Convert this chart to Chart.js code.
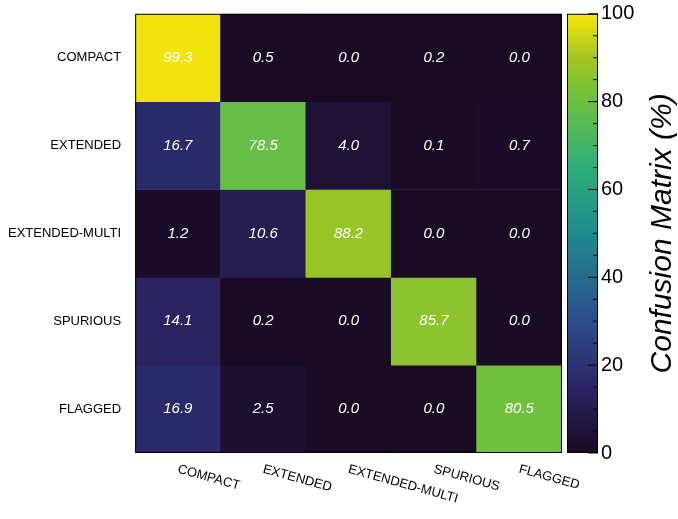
<!DOCTYPE html>
<html><head><meta charset="utf-8">
<script src="https://cdn.jsdelivr.net/npm/chart.js@4"></script>
<style>body{margin:0;background:#fff}#wrap{width:678px;height:519px}</style>
</head><body><div id="wrap"><canvas id="chart"></canvas></div>
<script>
const predicted = ["COMPACT", "EXTENDED", "EXTENDED-MULTI", "SPURIOUS", "FLAGGED"];
const trueRows = ["COMPACT", "EXTENDED", "EXTENDED-MULTI", "SPURIOUS", "FLAGGED"];
const matrix = [
  [99.3, 0.5, 0.0, 0.2, 0.0],
  [16.7, 78.5, 4.0, 0.1, 0.7],
  [1.2, 10.6, 88.2, 0.0, 0.0],
  [14.1, 0.2, 0.0, 85.7, 0.0],
  [16.9, 2.5, 0.0, 0.0, 80.5],
];
const cbTicks = [0, 20, 40, 60, 80, 100];

const stops = [
  [0, [26, 11, 36]], [0.15, [43, 37, 99]], [0.3, [45, 77, 140]], [0.5, [31, 138, 140]],
  [0.65, [46, 174, 122]], [0.8, [108, 192, 64]], [0.9, [164, 198, 32]], [1, [249, 229, 10]],
];
function palette(v) {
  const t = Math.max(0, Math.min(1, v / 100));
  for (let i = 1; i < stops.length; i++) {
    if (t <= stops[i][0]) {
      const [t0, c0] = stops[i - 1], [t1, c1] = stops[i];
      const f = (t - t0) / (t1 - t0);
      const c = c0.map((a, k) => Math.round(a + (c1[k] - a) * f));
      return `rgb(${c[0]},${c[1]},${c[2]})`;
    }
  }
  return "rgb(249,229,10)";
}

const n = trueRows.length;
const datasets = matrix.map((row, r) => {
  const lo = n - 1 - r;
  return {
    label: trueRows[r],
    data: row.map(() => [lo, lo + 1]),
    backgroundColor: row.map(palette),
    borderWidth: 0,
    barPercentage: 1,
    categoryPercentage: 1,
    grouped: false,
  };
});

const decor = {
  id: "decor",
  afterDatasetsDraw(chart) {
    const { ctx, chartArea: a, scales } = chart;
    ctx.save();
    // cell values
    ctx.fillStyle = "#fff";
    ctx.font = "italic 15px 'Liberation Sans', Arial";
    ctx.textAlign = "center";
    ctx.textBaseline = "middle";
    matrix.forEach((row, r) => {
      const y = scales.y.getPixelForValue(n - 1 - r + 0.5);
      row.forEach((v, c) => ctx.fillText(v.toFixed(1), scales.x.getPixelForValue(c), y));
    });
    // frame
    ctx.strokeStyle = "#000";
    ctx.lineWidth = 1;
    ctx.strokeRect(a.left + 0.5, a.top + 0.5, a.width - 1, a.height - 1);
    // x labels, slanted
    ctx.fillStyle = "#000";
    ctx.font = "13px 'Liberation Sans', Arial";
    ctx.textAlign = "left";
    predicted.forEach((p, c) => {
      const x = scales.x.getPixelForValue(c);
      ctx.save();
      ctx.translate(x, a.bottom + 16);
      ctx.rotate(0.27);
      ctx.fillText(p, 0, 0);
      ctx.restore();
    });
    // colour bar
    const x0 = a.right + 5, w = 31;
    const g = ctx.createLinearGradient(0, a.bottom, 0, a.top);
    for (let i = 0; i <= 50; i++) g.addColorStop(i / 50, palette(i * 2));
    ctx.fillStyle = g;
    ctx.fillRect(x0, a.top, w, a.height);
    ctx.strokeRect(x0 + 0.5, a.top + 0.5, w - 1, a.height - 1);
    ctx.font = "20px 'Liberation Sans', Arial";
    ctx.fillStyle = "#000";
    ctx.textBaseline = "middle";
    cbTicks.forEach((t) => {
      const y = a.bottom - (t / 100) * a.height;
      ctx.beginPath();
      ctx.moveTo(x0 + w - 10, y);
      ctx.lineTo(x0 + w, y);
      ctx.stroke();
      ctx.fillText(String(t), x0 + w + 3, y);
    });
    for (let t = 5; t < 100; t += 5) {
      if (t % 20 === 0) continue;
      const y = a.bottom - (t / 100) * a.height;
      ctx.beginPath();
      ctx.moveTo(x0 + w - 5, y);
      ctx.lineTo(x0 + w, y);
      ctx.stroke();
    }
    ctx.save();
    ctx.translate(663, (a.top + a.bottom) / 2);
    ctx.rotate(-Math.PI / 2);
    ctx.textAlign = "center";
    ctx.font = "italic 30px 'Liberation Sans', Arial";
    ctx.fillText("Confusion Matrix (%)", 0, 0);
    ctx.restore();
    ctx.restore();
  },
};

new Chart(document.querySelector("#chart"), {
  type: "bar",
  data: { labels: predicted, datasets },
  options: {
    animation: false,
    responsive: true,
    maintainAspectRatio: false,
    layout: { padding: { left: 2, right: 116, top: 12, bottom: 58 } },
    plugins: { legend: { display: false }, tooltip: { enabled: false } },
    scales: {
      x: { display: true, ticks: { display: false }, grid: { display: false }, border: { display: false } },
      y: {
        min: 0, max: 5,
        afterBuildTicks: (s) => { s.ticks = [0.5, 1.5, 2.5, 3.5, 4.5].map((v) => ({ value: v })); },
        ticks: {
          color: "#000", font: { size: 13, family: "'Liberation Sans', Arial" }, padding: 6,
          callback: (v) => trueRows[n - 1 - Math.floor(v)],
        },
        grid: { display: false }, border: { display: false },
      },
    },
  },
  plugins: [decor],
});
</script></body></html>
